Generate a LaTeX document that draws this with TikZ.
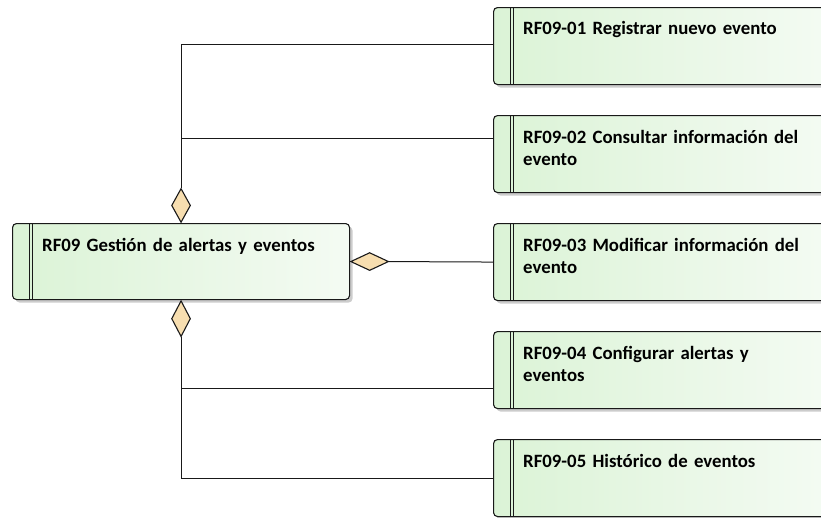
\documentclass[tikz,border=0pt]{standalone}
\usepackage{fontspec}
\setmainfont{Carlito}
\usepackage{xcolor}
\usetikzlibrary{positioning, shapes.geometric, shadows, calc}
\definecolor{ReqGreenL}{RGB}{219,243,214}
\definecolor{ReqGreenR}{RGB}{244,251,243}
\definecolor{AggFill}{RGB}{247,222,176}
\definecolor{EdgeGray}{RGB}{25,25,25}
\tikzset{
    reqbox/.style={
        draw=EdgeGray, line width=1.1pt, rounded corners=4pt, minimum width=337pt, minimum height=77pt,
        inner sep=0pt, left color=ReqGreenL, right color=ReqGreenR, anchor=north west,
        drop shadow={shadow xshift=3pt, shadow yshift=-3pt, fill=black!20, opacity=1}
    },
    reqtext/.style={
        font=\bfseries\fontsize{18.8}{21.7}\selectfont, align=left, inner sep=0pt, text width=300pt
    },
    aggnode/.style={
        diamond, draw=EdgeGray, line width=1.1pt, fill=AggFill, inner sep=0pt
    },
    link/.style={
        draw=EdgeGray, line width=1pt
    }
}

\begin{document}
\begin{tikzpicture}[x=1pt, y=-1pt]
    \clip (0,0) rectangle (821,517);
    % requirement boxes
    \node[reqbox, minimum height=76pt] (main) at (12,223) {};
    \node[reqbox] (req1) at (493,7) {};
    \node[reqbox] (req2) at (493,115) {};
    \node[reqbox] (req3) at (493,223) {};
    \node[reqbox] (req4) at (493,331) {};
    \node[reqbox] (req5) at (493,439) {};
    \foreach \b in {main, req1, req2, req3, req4, req5} {
        \draw[link] ([xshift=17pt]\b.north west) -- ([xshift=17pt]\b.south west);
        \draw[link] ([xshift=20.5pt]\b.north west) -- ([xshift=20.5pt]\b.south west);
    }
    \node[reqtext, below right=13pt and 30pt of main.north west] (maintxt) {\strut RF09 Gestión de alertas y eventos};
    \node[reqtext, below right=12pt and 30pt of req1.north west] (req1txt) {\strut RF09-01 Registrar nuevo evento};
    \node[reqtext, below right=13pt and 30pt of req2.north west] (req2txt) {\strut RF09-02 Consultar información del\\evento};
    \node[reqtext, below right=13pt and 30pt of req3.north west] (req3txt) {\strut RF09-03 Modificar información del\\evento};
    \node[reqtext, below right=13pt and 30pt of req4.north west] (req4txt) {\strut RF09-04 Configurar alertas y\\eventos};
    \node[reqtext, below right=13pt and 30pt of req5.north west] (req5txt) {\strut RF09-05 Histórico de eventos};
    % aggregation diamonds
    \node[aggnode, minimum width=19pt, minimum height=34pt, anchor=south] (aggup) at (main.north) {};
    \node[aggnode, minimum width=19pt, minimum height=36pt, anchor=north] (aggdown) at (main.south) {};
    \node[aggnode, minimum width=38pt, minimum height=18pt, anchor=west] (aggright) at (main.east) {};
    \draw[link] (aggup.north) |- ([yshift=1.5pt]req1.west);
    \draw[link] (aggup.north) |- ([yshift=16pt]req2.west);
    \draw[link] (aggright.east) -- (req3.west);
    \draw[link] (aggdown.south) |- ([yshift=-18pt]req4.west);
    \draw[link] (aggdown.south) |- (req5.west);
\end{tikzpicture}
\end{document}
